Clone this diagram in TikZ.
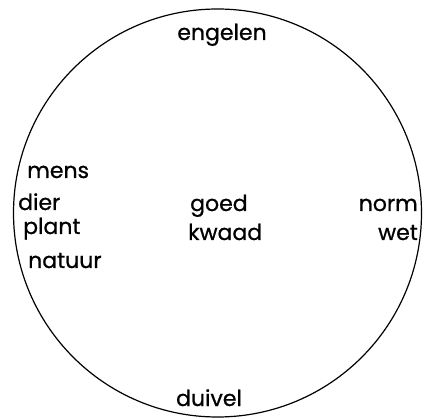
\documentclass[tikz,border=0pt]{standalone}
\usepackage{fontspec}
\newfontfamily\wordfont{Poppins}[FakeBold=0.8]
\usepackage{tikz}

\begin{document}
\begin{tikzpicture}[x=1pt,y=1pt,
  word/.style={inner sep=0pt,font=\wordfont\fontsize{22}{26}\selectfont}]
  \useasboundingbox (0,0) rectangle (431,418);
  \coordinate (O) at (217.5,205);
  \draw[line width=1.2pt] (O) circle (204);
  \node[word,anchor=base] (engelen) at (222,378) {engelen};
  \node[word,anchor=base] (duivel) at (209,12) {duivel};
  \foreach \w/\x/\y in {mens/27/240,dier/18/208,plant/23/184,natuur/28/150}
    \node[word,anchor=base west] (\w) at (\x,\y) {\w};
  \node[word,anchor=base west] (goed) at (190,207) {goed};
  \node[word,anchor=base west] (kwaad) at (188,178) {kwaad};
  \node[word,anchor=base east] (norm) at (418,207) {norm};
  \node[word,anchor=base east] (wet) at (418,178) {wet};
\end{tikzpicture}
\end{document}
